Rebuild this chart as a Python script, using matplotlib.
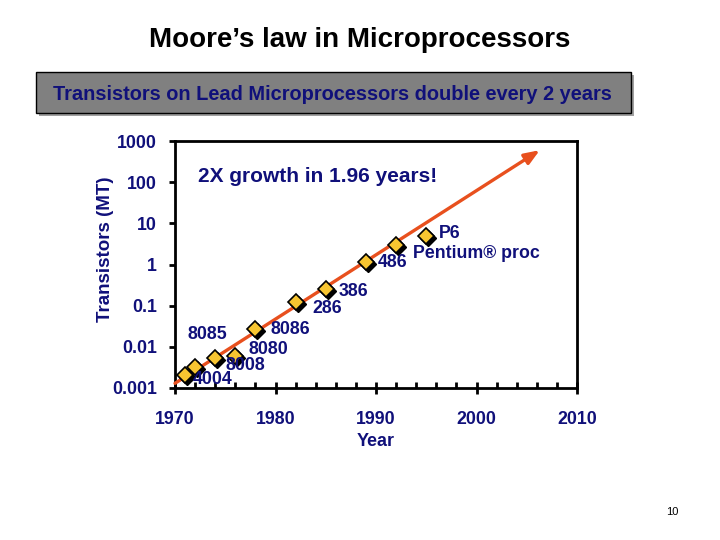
import matplotlib
matplotlib.use("Agg")
import matplotlib.pyplot as plt
import matplotlib.transforms as mtransforms
from matplotlib.patches import Rectangle
from matplotlib.ticker import FixedLocator, NullLocator, NullFormatter

plt.rcParams['font.family'] = ['Liberation Sans', 'DejaVu Sans']

# ---- data ----
years = [1971, 1972, 1974, 1976, 1978, 1982, 1985, 1989, 1992, 1995]
transistors_mt = [0.0021, 0.0033, 0.0054, 0.0060, 0.027, 0.12, 0.25, 1.12, 2.95, 5.0]
chip_labels = ["4004", "8008", "8080", "8085", "8086", "286", "386", "486",
               "Pentium\u00ae proc", "P6"]
trend_years = [1970, 2006.3]
trend_mt = [0.0013, 600]
x_ticks = [1970, 1980, 1990, 2000, 2010]
x_minor = [1972, 1974, 1976, 1978, 1982, 1984, 1986, 1988, 1992, 1994, 1996,
           1998, 2002, 2004, 2006, 2008]
y_ticks = [0.001, 0.01, 0.1, 1, 10, 100, 1000]
y_tick_labels = ["0.001", "0.01", "0.1", "1", "10", "100", "1000"]

# label offsets in pixels (dx right, dy up)
label_offsets = [(8, -5), (30, 1), (33, 8), (-48, 21), (15, 0), (17, -6),
                 (13, -2), (12, 0), (17, -8), (13, 2)]

NAVY = '#10107a'
GOLD = '#F7C531'
ORANGE = '#E8501E'

fig = plt.figure(figsize=(7.2, 5.4), dpi=100)
W, H = 720, 540

def fx(px):
    return px / W

def fy(py):
    return 1 - py / H

# Title
fig.text(fx(360), fy(40), "Moore\u2019s law in Microprocessors", ha='center', va='center',
         fontsize=20, fontweight='bold', color='black')

# Gray box with shadow
bx0, by0, bx1, by1 = 36, 72, 631, 113
shadow = Rectangle((fx(bx0 + 3), fy(by1 + 3)), fx(bx1 - bx0), (by1 - by0) / H,
                   transform=fig.transFigure, facecolor='#a0a0a0', edgecolor='none', zorder=1)
box = Rectangle((fx(bx0), fy(by1)), fx(bx1 - bx0), (by1 - by0) / H,
                transform=fig.transFigure, facecolor='#808080', edgecolor='black',
                linewidth=1, zorder=2)
fig.patches.extend([shadow, box])
fig.text(fx(332), fy(94), "Transistors on Lead Microprocessors double every 2 years",
         ha='center', va='center', fontsize=14.4, fontweight='bold', color=NAVY, zorder=3)

# Axes
ax = fig.add_axes([fx(175), fy(388), fx(577 - 175), (388 - 141) / H])
ax.set_yscale('log')
ax.set_xlim(1970, 2010)
ax.set_ylim(0.001, 1000)

for sp in ax.spines.values():
    sp.set_linewidth(2)
    sp.set_color('black')

ax.xaxis.set_major_locator(FixedLocator(x_ticks))
ax.xaxis.set_minor_locator(FixedLocator(x_minor))
ax.set_xticklabels([str(t) for t in x_ticks])
ax.yaxis.set_major_locator(FixedLocator(y_ticks))
ax.yaxis.set_minor_locator(NullLocator())
ax.yaxis.set_minor_formatter(NullFormatter())
ax.set_yticklabels(y_tick_labels)

ax.tick_params(axis='x', which='major', direction='inout', length=9, width=2,
               labelsize=12.8, labelcolor=NAVY, pad=12)
ax.tick_params(axis='x', which='minor', direction='in', length=4, width=2)
ax.tick_params(axis='y', which='major', direction='out', length=4, width=2,
               labelsize=12.8, labelcolor=NAVY, pad=9)
for lab in ax.get_xticklabels() + ax.get_yticklabels():
    lab.set_fontweight('bold')

ax.set_xlabel("Year", fontsize=13, fontweight='bold', color=NAVY, labelpad=4)
ax.set_ylabel("Transistors (MT)", fontsize=13.5, fontweight='bold', color=NAVY)
ax.yaxis.set_label_coords(-0.152, 0.56)

# Trend arrow
ax.annotate("", xy=(trend_years[1], trend_mt[1]), xytext=(trend_years[0], trend_mt[0]),
            arrowprops=dict(arrowstyle='-|>,head_length=0.9,head_width=0.35',
                            color=ORANGE, lw=2.4, shrinkA=0, shrinkB=0),
            annotation_clip=False, zorder=3)

# Markers with shadow
shadow_tr = mtransforms.offset_copy(ax.transData, fig=fig, x=2.0, y=-2.0, units='dots')
ax.plot(years, transistors_mt, linestyle='none', marker='D', markersize=8.5,
        markerfacecolor='black', markeredgecolor='black', transform=shadow_tr,
        zorder=4, clip_on=False)
ax.plot(years, transistors_mt, linestyle='none', marker='D', markersize=8.5,
        markerfacecolor=GOLD, markeredgecolor='black', markeredgewidth=1.2,
        zorder=5, clip_on=False)

for yr, val, lab, (dx, dy) in zip(years, transistors_mt, chip_labels, label_offsets):
    ax.annotate(lab, xy=(yr, val), xytext=(dx * 0.72, dy * 0.72), textcoords='offset points',
                ha='left', va='center', fontsize=12.8, fontweight='bold', color=NAVY,
                zorder=6)

ax.text((198 - 175) / (577 - 175), (388 - 176) / (388 - 141), "2X growth in 1.96 years!",
        transform=ax.transAxes, ha='left', va='center', fontsize=15,
        fontweight='bold', color=NAVY)

fig.text(fx(672), fy(512), "10", ha='center', va='center', fontsize=8, color='black')

fig.savefig("out.png", dpi=100)
